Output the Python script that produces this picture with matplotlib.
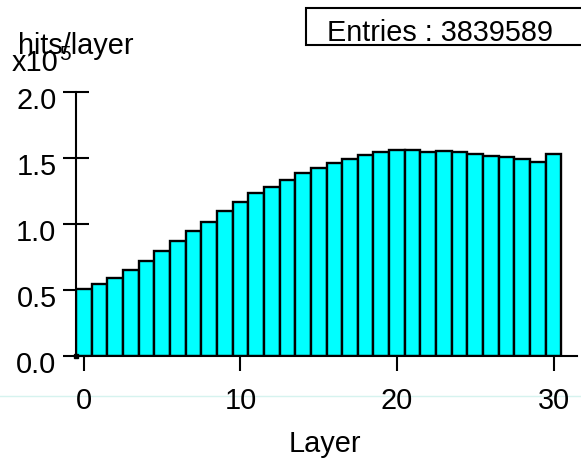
import matplotlib
matplotlib.use("Agg")
import matplotlib.pyplot as plt
from matplotlib.lines import Line2D
from matplotlib.patches import Rectangle
from matplotlib.transforms import ScaledTranslation
import numpy as np

plt.rcParams['font.family'] = ['Liberation Sans', 'DejaVu Sans']

# Hits per calorimeter layer
layers = list(range(31))
hits = [51100, 54200, 59200, 65000, 71600, 79400, 87200, 94800, 101600, 109700,
        116700, 123800, 128100, 133700, 138700, 142500, 146300, 148900, 152300, 154200,
        156100, 155700, 154900, 155400, 154600, 153400, 151600, 150400, 148900, 146800,
        153400]
entries = 3839589
scale = 1e5
y_ticks = [0.0, 0.5, 1.0, 1.5, 2.0]
x_ticks = [0, 10, 20, 30]

W, H = 581, 464
PX = 0.72  # points per pixel at 100 dpi
fig = plt.figure(figsize=(W / 100, H / 100), dpi=100)
ax = fig.add_axes([76 / W, 1 - 357 / H, (577 - 76) / W, (357 - 93) / H])

ax.bar(layers, np.array(hits) / scale, width=1.0, align='center',
       color='#00ffff', edgecolor='black', linewidth=1.7, zorder=2)

ax.set_xlim(-0.5, 31.5)
ax.set_ylim(0, 2.0)

for s in ['top', 'right']:
    ax.spines[s].set_visible(False)
for s in ['left', 'bottom']:
    ax.spines[s].set_linewidth(1.5)
    ax.spines[s].set_zorder(3)

fs = 20.8
ax.set_yticks(y_ticks)
ax.set_yticklabels([f"{v:.1f}" for v in y_ticks])
ax.set_xticks(x_ticks)
ax.set_xticklabels([str(v) for v in x_ticks])
ax.tick_params(axis='y', direction='inout', length=27 * PX, width=1.5,
               labelsize=fs, pad=6 * PX)
ax.tick_params(axis='x', direction='out', length=15 * PX, width=1.5,
               labelsize=fs, pad=15 * PX)
for lab in ax.get_yticklabels():
    lab.set_transform(lab.get_transform() + ScaledTranslation(0, -5 / 100, fig.dpi_scale_trans))

# axis label below the x axis
fig.text(325 / W, 1 - 452 / H, "Layer", fontsize=fs, ha='center', va='baseline')

# small marker at the origin
ax.plot([-0.5], [0], marker='s', color='black', markersize=3.5, clip_on=False, zorder=4)

# axis title and exponent
fig.text(18 / W, 1 - 54 / H, "hits/layer", fontsize=fs, ha='left', va='baseline')
fig.text(12 / W, 1 - 71 / H, "x10", fontsize=fs, ha='left', va='baseline')
fig.text(59 / W, 1 - 60 / H, "5", fontsize=15, ha='left', va='baseline')

# statistics box
fig.add_artist(Rectangle((306 / W, 1 - 46 / H), (600 - 306) / W, 37 / H,
                         transform=fig.transFigure, facecolor='white',
                         edgecolor='black', linewidth=1.5, clip_on=False))
fig.text(327 / W, 1 - 41 / H, f"Entries : {entries}", fontsize=fs,
         ha='left', va='baseline')

# faint guide line
fig.add_artist(Line2D([0, 1], [1 - 397 / H, 1 - 397 / H], transform=fig.transFigure,
                      color='#d6f3ef', linewidth=1, zorder=0))

fig.savefig("out.png", dpi=100)
